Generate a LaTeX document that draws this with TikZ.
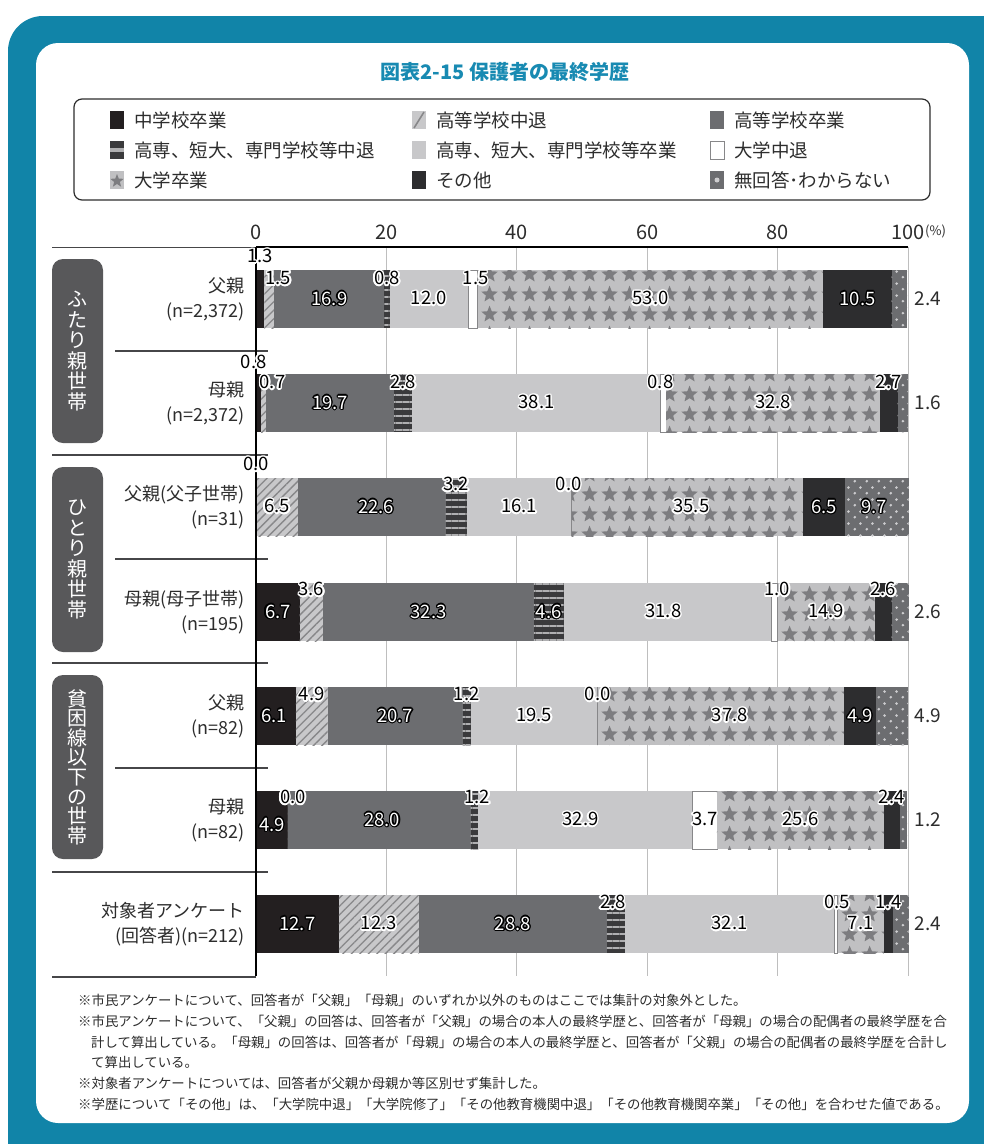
\documentclass[tikz,border=0pt]{standalone}
\usepackage{fontspec}
\setmainfont{Noto Sans CJK JP}
\usepackage[copies]{contour}
\usetikzlibrary{patterns.meta}
\pgfdeclarelayer{front}
\pgfsetlayers{main,front}
\contourlength{1.5pt}
\contournumber{16}
\definecolor{frame}{RGB}{17,132,168}
\definecolor{titlec}{RGB}{24,138,178}
\definecolor{cText}{RGB}{45,45,45}
\definecolor{cRule}{RGB}{70,70,72}
\definecolor{cGrid}{RGB}{190,190,190}
\definecolor{cJhs}{RGB}{35,31,32}
\definecolor{cLight}{RGB}{200,200,202}
\definecolor{cHatch}{RGB}{135,135,137}
\definecolor{cMid}{RGB}{108,109,112}
\definecolor{cDark}{RGB}{58,58,60}
\definecolor{cStripe}{RGB}{175,175,177}
\definecolor{cStarBg}{RGB}{192,192,194}
\definecolor{cStar}{RGB}{125,125,128}
\definecolor{cOther}{RGB}{45,45,47}
\definecolor{cDot}{RGB}{205,205,207}
\definecolor{cGroup}{RGB}{88,88,90}

\tikzdeclarepattern{
  name=starfield,
  type=uncolored,
  bottom left={(0pt,0pt)},
  top right={(20pt,20pt)},
  tile size={(20pt,20pt)},
  code={
    \fill[shift={(10pt,10pt)}] (90:9pt) -- (126:4pt) -- (162:9pt) -- (198:4pt)
      -- (234:9pt) -- (270:4pt) -- (306:9pt) -- (342:4pt) -- (18:9pt)
      -- (54:4pt) -- cycle;
  }
}
\tikzdeclarepattern{
  name=polka,
  type=uncolored,
  bottom left={(0pt,0pt)},
  top right={(12pt,12pt)},
  tile size={(12pt,12pt)},
  code={
    \fill (3pt,3pt) circle[radius=1.5pt];
    \fill (9pt,9pt) circle[radius=1.5pt];
  }
}

% labels on bars
\newcommand{\ondark}[1]{{\contourlength{1.1pt}\textcolor{white}{\contour{black}{#1}}}}
\newcommand{\onlight}[1]{\textcolor{black}{\contour{white}{#1}}}

% one bar row: \barrow{y}, then \seg{style}{value}{label shift}{halo}
\newcount\segno
\newcommand{\barrow}[1]{\xdef\rowy{#1}\xdef\curx{0}}
\newcommand{\seg}[4]{
  \global\advance\segno by 1
  \pgfmathsetmacro{\xa}{256+6.52*\curx}
  \pgfmathsetmacro{\nx}{\curx+#2}
  \pgfmathsetmacro{\xb}{256+6.52*\nx}
  \path[#1] (\xa,\rowy-29) rectangle (\xb,\rowy+29);
  \if\relax\detokenize{#3}\relax\else
    \begin{pgfonlayer}{front}
    \node[vlab, shift={(#3)}] (v\the\segno) at ({(\xa+\xb)/2},\rowy) {#4{#2}};
    \end{pgfonlayer}
  \fi
  \xdef\curx{\nx}
}
\newcommand{\rlab}[1]{
  \node[rlabel] (r\the\segno) at (928,\rowy) {#1};
}
\newcommand{\legitem}[4]{
  \path[#3] (#1,#2-9) rectangle (#1+14,#2+9);
  \node[legtext, anchor=west] (l#1-#2) at (#1+24,#2) {#4};
}

\begin{document}
\begin{tikzpicture}[x=1pt,y=-1pt,
  jhs/.style={fill=cJhs},
  hsdrop/.style={fill=cLight, postaction={pattern={Lines[angle=45,distance=6pt,line width=1.3pt]}, pattern color=cHatch}},
  hsgrad/.style={fill=cMid},
  vocdrop/.style={fill=cDark, postaction={pattern={Lines[angle=0,distance=7pt,line width=1.5pt]}, pattern color=cStripe}},
  vocgrad/.style={fill=cLight},
  unidrop/.style={fill=white, draw=cHatch, line width=0.8pt},
  unigrad/.style={fill=cStarBg, postaction={pattern=starfield, pattern color=cStar}},
  other/.style={fill=cOther},
  noans/.style={fill=cMid, postaction={pattern=polka, pattern color=cDot}},
  vlab/.style={font=\fontsize{18.5}{20}\selectfont, inner sep=0pt},
  rlabel/.style={font=\fontsize{19}{20}\selectfont, text=cText},
  legtext/.style={font=\fontsize{18.5}{20}\selectfont, text=cText, inner sep=0pt},
  rowname/.style={font=\fontsize{18}{25}\selectfont, text=cText, align=right, anchor=east, inner sep=0pt},
  grpname/.style={font=\fontsize{20}{20.5}\selectfont, text=white, align=center, inner sep=0pt},
  note/.style={font=\fontsize{13.4}{15}\selectfont, text=cText, anchor=west, inner sep=0pt}]
\useasboundingbox (0,0) rectangle (984,1144);
\fill[frame, rounded corners=35pt] (8,16) rectangle (1040,1200);
\fill[white, rounded corners=22pt] (36,43) rectangle (969,1123);

\node[font=\bfseries\fontsize{20}{22}\selectfont, text=titlec] (title) at (505,72) {図表2-15 保護者の最終学歴};

% legend
\draw[cText, line width=1.2pt, rounded corners=8pt] (74,99) rectangle (930,200);
\legitem{110}{120}{jhs}{中学校卒業}
\legitem{412}{120}{vocgrad}{高等学校中退}
\draw[cHatch, line width=1.6pt] (414,128) -- (424,112);
\legitem{710}{120}{hsgrad}{高等学校卒業}
\legitem{110}{150}{fill=cDark}{高専、短大、専門学校等中退}
\fill[cStripe] (110,148) rectangle (124,152);
\legitem{412}{150}{vocgrad}{高専、短大、専門学校等卒業}
\legitem{710}{150}{unidrop}{大学中退}
\legitem{110}{180}{fill=cStarBg}{大学卒業}
\fill[cStar, shift={(117,181)}] (90:7pt) -- (126:3pt) -- (162:7pt) -- (198:3pt) -- (234:7pt)
  -- (270:3pt) -- (306:7pt) -- (342:3pt) -- (18:7pt) -- (54:3pt) -- cycle;
\legitem{412}{180}{other}{その他}
\legitem{710}{180}{hsgrad}{無回答･わからない}
\fill[cDot] (717,180) circle[radius=2.5];

% axis and grid
\foreach \v in {20,40,...,100} {
  \draw[cGrid, line width=0.8pt] (256+6.52*\v,247) -- (256+6.52*\v,976);
}
\foreach \v in {0,20,...,100} {
  \node[font=\fontsize{20}{22}\selectfont, text=cText] (t\v) at (256+6.52*\v,232) {\v};
}
\node[font=\fontsize{13}{15}\selectfont, text=cText, anchor=west, inner sep=0pt] (pct) at (925,231) {(\%)};
\draw[cRule, line width=1pt] (52,247) -- (256,247);
\draw[black, line width=1.2pt] (256,247) -- (908,247);
\foreach \y/\xs in {351/115, 455/52, 559/115, 663/52, 768/115, 872/52} {
  \draw[cRule, line width=1.1pt] (\xs,\y) -- (268,\y);
}
\draw[cRule, line width=1.1pt] (52,977) -- (256,977);

% group boxes
\fill[cGroup, rounded corners=11pt] (52,259) rectangle (103,443);
\node[grpname] (g1) at (77.5,351) {ふ\\た\\り\\親\\世\\帯};
\fill[cGroup, rounded corners=11pt] (52,467) rectangle (103,652);
\node[grpname] (g2) at (77.5,559.5) {ひ\\と\\り\\親\\世\\帯};
\fill[cGroup, rounded corners=11pt] (52,675) rectangle (103,859);
\node[grpname, font=\fontsize{20}{19.6}\selectfont] (g3) at (77.5,767) {貧\\困\\線\\以\\下\\の\\世\\帯};

% row names
\node[rowname] (n1) at (245,299) {父親\\(n=2,372)};
\node[rowname] (n2) at (245,403) {母親\\(n=2,372)};
\node[rowname] (n3) at (245,507) {父親(父子世帯)\\(n=31)};
\node[rowname] (n4) at (245,612) {母親(母子世帯)\\(n=195)};
\node[rowname] (n5) at (245,716) {父親\\(n=82)};
\node[rowname] (n6) at (245,820) {母親\\(n=82)};
\node[rowname] (n7) at (245,924) {対象者アンケート\\(回答者)(n=212)};

% bars
\barrow{299}
\seg{jhs}{1.3}{0,-42}{\onlight}
\seg{hsdrop}{1.5}{9,-20}{\onlight}
\seg{hsgrad}{16.9}{0,0}{\ondark}
\seg{vocdrop}{0.8}{0,-20}{\onlight}
\seg{vocgrad}{12.0}{0,0}{\onlight}
\seg{unidrop}{1.5}{3,-20}{\onlight}
\seg{unigrad}{53.0}{0,0}{\onlight}
\seg{other}{10.5}{0,0}{\ondark}
\seg{noans}{2.4}{}{}
\rlab{2.4}

\barrow{403}
\seg{jhs}{0.8}{-5,-40}{\onlight}
\seg{hsdrop}{0.7}{9,-20}{\onlight}
\seg{hsgrad}{19.7}{0,0}{\ondark}
\seg{vocdrop}{2.8}{0,-20}{\onlight}
\seg{vocgrad}{38.1}{0,0}{\onlight}
\seg{unidrop}{0.8}{-3,-20}{\onlight}
\seg{unigrad}{32.8}{0,0}{\onlight}
\seg{other}{2.7}{0,-20}{\onlight}
\seg{noans}{1.6}{}{}
\rlab{1.6}

\barrow{507}
\seg{jhs}{0.0}{0,-42}{\onlight}
\seg{hsdrop}{6.5}{0,0}{\onlight}
\seg{hsgrad}{22.6}{4,0}{\ondark}
\seg{vocdrop}{3.2}{0,-22}{\onlight}
\seg{vocgrad}{16.1}{0,0}{\onlight}
\seg{unidrop}{0.0}{-3,-22}{\onlight}
\seg{unigrad}{35.5}{4,0}{\onlight}
\seg{other}{6.5}{0,0}{\ondark}
\seg{noans}{9.7}{-3,0}{\ondark}

\barrow{612}
\seg{jhs}{6.7}{0,0}{\ondark}
\seg{hsdrop}{3.6}{0,-22}{\onlight}
\seg{hsgrad}{32.3}{0,0}{\ondark}
\seg{vocdrop}{4.6}{0,0}{\ondark}
\seg{vocgrad}{31.8}{-4,0}{\onlight}
\seg{unidrop}{1.0}{3,-22}{\onlight}
\seg{unigrad}{14.9}{0,0}{\onlight}
\seg{other}{2.6}{0,-22}{\onlight}
\seg{noans}{2.6}{}{}
\rlab{2.6}

\barrow{716}
\seg{jhs}{6.1}{-2,0}{\ondark}
\seg{hsdrop}{4.9}{0,-21}{\onlight}
\seg{hsgrad}{20.7}{0,0}{\ondark}
\seg{vocdrop}{1.2}{0,-21}{\onlight}
\seg{vocgrad}{19.5}{0,0}{\onlight}
\seg{unidrop}{0.0}{0,-21}{\onlight}
\seg{unigrad}{37.8}{9,0}{\onlight}
\seg{other}{4.9}{0,0}{\ondark}
\seg{noans}{4.9}{}{}
\rlab{4.9}

\barrow{820}
\seg{jhs}{4.9}{0,5}{\ondark}
\seg{hsdrop}{0.0}{5,-22}{\onlight}
\seg{hsgrad}{28.0}{3,0}{\ondark}
\seg{vocdrop}{1.2}{3,-22}{\onlight}
\seg{vocgrad}{32.9}{-5,0}{\onlight}
\seg{unidrop}{3.7}{0,0}{\onlight}
\seg{unigrad}{25.6}{0,0}{\onlight}
\seg{other}{2.4}{0,-22}{\onlight}
\seg{noans}{1.2}{}{}
\rlab{1.2}

\barrow{924}
\seg{jhs}{12.7}{0,0}{\ondark}
\seg{hsdrop}{12.3}{0,0}{\onlight}
\seg{hsgrad}{28.8}{0,0}{\ondark}
\seg{vocdrop}{2.8}{-3,-21}{\onlight}
\seg{vocgrad}{32.1}{0,0}{\onlight}
\seg{unidrop}{0.5}{1,-21}{\onlight}
\seg{unigrad}{7.1}{0,0}{\onlight}
\seg{other}{1.4}{0,-21}{\onlight}
\seg{noans}{2.4}{}{}
\rlab{2.4}

\draw[black, line width=1.2pt] (256,247) -- (256,976);

% notes
\node[note] (f1) at (78,1000) {※市民アンケートについて、回答者が「父親」「母親」のいずれか以外のものはここでは集計の対象外とした。};
\node[note] (f2) at (78,1021) {※市民アンケートについて、「父親」の回答は、回答者が「父親」の場合の本人の最終学歴と、回答者が「母親」の場合の配偶者の最終学歴を合};
\node[note] (f3) at (91,1042) {計して算出している。「母親」の回答は、回答者が「母親」の場合の本人の最終学歴と、回答者が「父親」の場合の配偶者の最終学歴を合計し};
\node[note] (f4) at (91,1062) {て算出している。};
\node[note] (f5) at (78,1083) {※対象者アンケートについては、回答者が父親か母親か等区別せず集計した。};
\node[note] (f6) at (78,1104) {※学歴について「その他」は、「大学院中退」「大学院修了」「その他教育機関中退」「その他教育機関卒業」「その他」を合わせた値である。};
\end{tikzpicture}
\end{document}
